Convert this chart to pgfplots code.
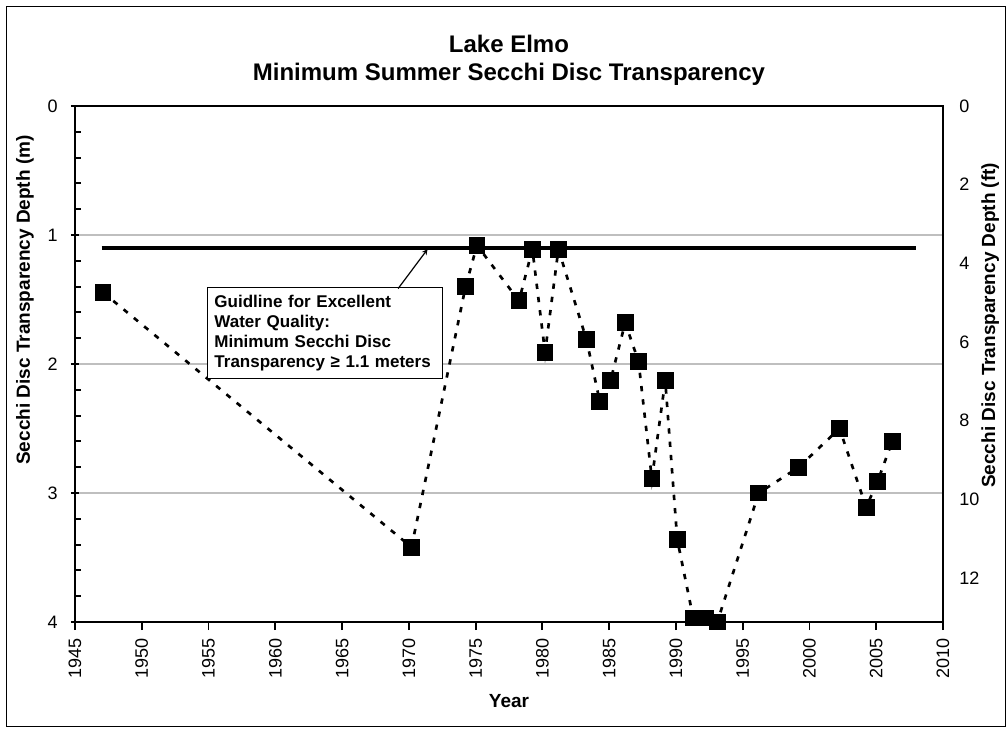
\documentclass[border=0pt]{standalone}
\usepackage{fontspec}
\setmainfont{Liberation Sans}
\usepackage{pgfplots}
\pgfplotsset{compat=1.18}

\pgfplotstableread{
year depth
1947.1 1.445
1970.2 3.42
1974.25 1.40
1975.1 1.08
1978.25 1.51
1979.25 1.11
1980.2 1.91
1981.2 1.11
1983.3 1.81
1984.3 2.29
1985.1 2.13
1986.2 1.68
1987.2 1.98
1988.2 2.89
1989.2 2.13
1990.1 3.36
1991.3 3.97
1992.2 3.97
1993.1 4.00
1996.2 3.00
1999.2 2.80
2002.25 2.50
2004.25 3.11
2005.1 2.91
2006.2 2.60
}\secchi

\begin{document}
\begin{tikzpicture}
\begin{axis}[
  scale only axis, width=651pt, height=387pt,
  at={(0,0)}, anchor=south west,
  xmin=1945, xmax=2010, ymin=0, ymax=4, y dir=reverse,
  xtick={1945,1950,...,2010},
  ytick={0,1,2,3,4},
  minor y tick num=4,
  tick pos=left,
  tick align=inside,
  major tick length=6pt,
  minor tick length=4.5pt,
  tick style={black, line width=1.4pt},
  major x tick style={yshift=-6pt},
  major y tick style={xshift=-3pt},
  /pgf/number format/1000 sep={},
  /pgf/number format/assume math mode=true,
  xticklabel style={rotate=90, anchor=east, inner sep=0pt, font=\fontsize{13.5}{16}\selectfont},
  xticklabel shift=12pt,
  yticklabel style={anchor=east, inner sep=0pt, font=\fontsize{13.5}{16}\selectfont},
  yticklabel shift=12.75pt,
  ymajorgrids, grid style={draw=black!25, line width=0.9pt},
  axis line style={line width=0.8pt},
  clip=false,
]
\addplot[black, line width=2.5pt] coordinates {(1947,1.1) (2008,1.1)};
\addplot[black, line width=2pt, dash pattern=on 4pt off 6pt,
  mark=square*, mark size=5.25pt, mark options={solid}] table[x=year,y=depth] {\secchi};
\draw[line width=1.9pt] (axis description cs:0,1) -- (axis description cs:0,0) -- (axis description cs:1,0);
\node[draw, line width=0.9pt, fill=white, anchor=north west, inner xsep=5pt, inner ysep=3pt,
  text width=166pt, minimum height=68.25pt, align=left,
  font=\fontsize{12.75}{15}\selectfont\bfseries] at (axis cs:1954.9,1.403)
  {Guidline for Excellent\\Water Quality:\\Minimum Secchi Disc\\Transparency ≥ 1.1 meters};
\draw[-stealth, line width=0.9pt] (axis cs:1969.2,1.415) -- (axis cs:1971.4,1.11);
\node[anchor=base, font=\fontsize{18}{21}\selectfont\bfseries] at ([yshift=40pt]axis description cs:0.5,1) {Lake Elmo};
\node[anchor=base, font=\fontsize{18}{21}\selectfont\bfseries] at ([yshift=19pt]axis description cs:0.5,1) {Minimum Summer Secchi Disc Transparency};
\node[anchor=base, font=\fontsize{14.25}{17}\selectfont\bfseries] at ([yshift=-63.75pt]axis description cs:0.5,0) {Year};
\node[rotate=90, font=\fontsize{14.25}{17}\selectfont\bfseries] at ([xshift=-37.5pt]axis description cs:0,0.624) {Secchi Disc Transparency Depth (m)};
\node[rotate=90, font=\fontsize{14.25}{17}\selectfont\bfseries] at ([xshift=35.5pt]axis description cs:1,0.575) {Secchi Disc Transparency Depth (ft)};
\end{axis}
\begin{axis}[
  scale only axis, width=651pt, height=387pt,
  at={(0,0)}, anchor=south west,
  xmin=1945, xmax=2010, ymin=0, ymax=13.1234, y dir=reverse,
  axis x line=none, axis y line*=right,
  ytick={0,2,...,12},
  major tick length=0pt,
  /pgf/number format/assume math mode=true,
  yticklabel style={anchor=west, inner sep=0pt, font=\fontsize{13.5}{16}\selectfont},
  yticklabel shift=12pt,
  axis line style={line width=1.1pt},
]
\end{axis}
\draw[line width=0.75pt] (-51pt,-78.75pt) rectangle (697.5pt,461.25pt);
\path (-56.25pt,-82.5pt) rectangle (699.75pt,466.5pt);
\end{tikzpicture}
\end{document}
